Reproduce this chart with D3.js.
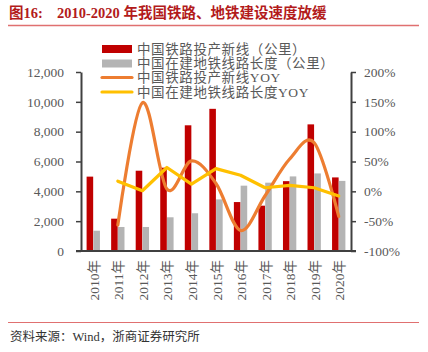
<!DOCTYPE html>
<html><head><meta charset="utf-8">
<script src="https://cdn.jsdelivr.net/npm/d3@7"></script>
<style>
body{margin:0;background:#fff;}
svg{display:block;}
text{font-family:"Liberation Serif","Noto Sans CJK SC",serif;}
</style></head>
<body><svg id="c" width="428" height="352"></svg>
<script>
const years = ["2010年","2011年","2012年","2013年","2014年","2015年","2016年","2017年","2018年","2019年","2020年"];
const railNew = [4986,2167,5382,5586,8427,9531,3281,3038,4683,8489,4933];
const metroLen = [1360,1610,1610,2260,2530,3460,4380,4580,5000,5200,4700];
const railYoy = [null,-56.5,148.4,3.8,50.9,13.1,-65.6,-7.4,54.2,81.3,-41.9];
const metroYoy = [null,17,1,40,12,38,27,6,10,6,-8];
const leftTicks = [0,2000,4000,6000,8000,10000,12000];
const rightTicks = [-100,-50,0,50,100,150,200];
const seriesNames = ["中国铁路投产新线（公里）","中国在建地铁线路长度（公里）","中国铁路投产新线YOY","中国在建地铁线路长度YOY"];
const colors = {red:"#C00000",grey:"#B4B4B4",orange:"#ED7D31",yellow:"#FFC000",text:"#595959",axis:"#404040"};

const svg = d3.select("#c");
const L=81,R=351,T=72,B=251;
const x = d3.scaleBand().domain(years).range([L,R]).padding(0);
const x1 = d3.scaleBand().domain(["a","b"]).range([x.bandwidth()*0.22, x.bandwidth()*0.78]).padding(0.03);
const yL = d3.scaleLinear().domain([0,12000]).range([B,T]);
const yR = d3.scaleLinear().domain([-100,200]).range([B,T]);

// title
svg.append("text").attr("x",9).attr("y",18).attr("fill","#B31B1B").attr("font-weight","bold").attr("font-size",14.5).text("图16:");
svg.append("text").attr("x",57).attr("y",18).attr("fill","#B31B1B").attr("font-weight","bold").attr("font-size",14.5).text("2010-2020 年我国铁路、地铁建设速度放缓");
svg.append("line").attr("x1",8).attr("x2",419).attr("y1",25.5).attr("y2",25.5).attr("stroke","#E07070").attr("stroke-width",1.6);

// bars
const g = svg.append("g");
g.selectAll("rect.r").data(years).join("rect").attr("class","r")
 .attr("x",d=>x(d)+x1("a")).attr("width",x1.bandwidth())
 .attr("y",(d,i)=>yL(railNew[i])).attr("height",(d,i)=>B-yL(railNew[i])).attr("fill",colors.red);
g.selectAll("rect.g").data(years).join("rect").attr("class","g")
 .attr("x",d=>x(d)+x1("b")).attr("width",x1.bandwidth())
 .attr("y",(d,i)=>yL(metroLen[i])).attr("height",(d,i)=>B-yL(metroLen[i])).attr("fill",colors.grey);

// lines
const cx = d=>x(d)+x.bandwidth()/2;
const lineO = d3.line().defined(d=>d[1]!==null).x(d=>cx(d[0])).y(d=>yR(d[1])).curve(d3.curveCardinal.tension(0));
const lineY = d3.line().defined(d=>d[1]!==null).x(d=>cx(d[0])).y(d=>yR(d[1]));
svg.append("path").attr("d",lineO(years.map((d,i)=>[d,railYoy[i]]))).attr("fill","none").attr("stroke",colors.orange).attr("stroke-width",3.2).attr("stroke-linecap","round");
svg.append("path").attr("d",lineY(years.map((d,i)=>[d,metroYoy[i]]))).attr("fill","none").attr("stroke",colors.yellow).attr("stroke-width",3.2).attr("stroke-linecap","round").attr("stroke-linejoin","round");

// axes
const axL = svg.append("g").attr("transform",`translate(${L},0)`).call(d3.axisLeft(yL).tickValues(leftTicks).tickFormat(d3.format(",")).tickSize(5).tickSizeOuter(0));
const axR = svg.append("g").attr("transform",`translate(${R},0)`).call(d3.axisRight(yR).tickValues(rightTicks).tickFormat(d=>d+"%").tickSize(5).tickSizeOuter(0));
[axL,axR].forEach(a=>{
  a.select(".domain").attr("stroke",colors.axis).attr("stroke-width",2);
  a.selectAll(".tick line").attr("stroke",colors.axis).attr("stroke-width",1.5);
  a.selectAll(".tick text").attr("fill",colors.text).attr("font-size",13.5).attr("font-family","Liberation Serif");
});
axL.selectAll(".tick text").attr("x",-17);
axR.selectAll(".tick text").attr("x",13);
svg.append("line").attr("x1",76).attr("x2",356).attr("y1",B).attr("y2",B).attr("stroke",colors.axis).attr("stroke-width",2);

// x labels
svg.append("g").selectAll("text").data(years).join("text")
 .attr("transform",d=>`translate(${cx(d)+1},260) rotate(-90)`)
 .attr("text-anchor","end").attr("dominant-baseline","central")
 .attr("fill",colors.text).attr("font-size",13.5).text(d=>d);

// legend
const lg = svg.append("g");
const ly = [49,63.5,77.5,92];
lg.append("rect").attr("x",102).attr("y",ly[0]-4).attr("width",30).attr("height",8).attr("fill",colors.red);
lg.append("rect").attr("x",102).attr("y",ly[1]-4).attr("width",30).attr("height",8).attr("fill",colors.grey);
lg.append("line").attr("x1",102).attr("x2",132).attr("y1",ly[2]).attr("y2",ly[2]).attr("stroke",colors.orange).attr("stroke-width",3.2).attr("stroke-linecap","round");
lg.append("line").attr("x1",102).attr("x2",132).attr("y1",ly[3]).attr("y2",ly[3]).attr("stroke",colors.yellow).attr("stroke-width",3.2).attr("stroke-linecap","round");
lg.selectAll("text").data(seriesNames).join("text").attr("x",137).attr("y",(d,i)=>ly[i]).attr("dominant-baseline","central")
 .attr("fill",colors.text).attr("font-size",13.5).attr("letter-spacing",0.6).text(d=>d);

// footer
svg.append("line").attr("x1",8).attr("x2",419).attr("y1",322.5).attr("y2",322.5).attr("stroke","#E07070").attr("stroke-width",1.2);
svg.append("text").attr("x",10).attr("y",341).attr("fill","#333").attr("font-size",12.5).text("资料来源：Wind，浙商证券研究所");
</script></body></html>
